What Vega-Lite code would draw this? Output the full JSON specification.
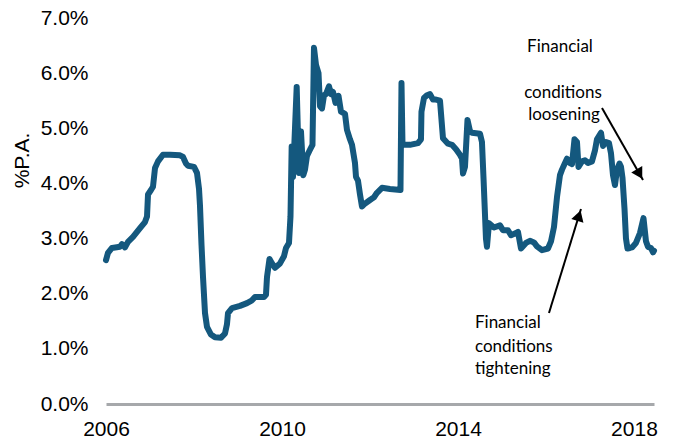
{
  "$schema": "https://vega.github.io/schema/vega-lite/v6.json",
  "width": 548,
  "height": 386,
  "autosize": "none",
  "padding": {"left": 106, "top": 18, "right": 20, "bottom": 36},
  "background": "white",
  "title": {"text": "(smoothing approach)", "fontSize": 18, "fontWeight": "bold", "font": "Liberation Sans", "anchor": "middle", "dx": -18, "offset": 19, "baseline": "alphabetic", "color": "#000000"},
  "config": {"view": {"stroke": null}},
  "datasets": {
    "series": [
      {"year": 2006.000, "rate": 2.61}, {"year": 2006.045, "rate": 2.74}, {"year": 2006.136, "rate": 2.83}, {"year": 2006.318, "rate": 2.85},
      {"year": 2006.364, "rate": 2.90}, {"year": 2006.432, "rate": 2.84}, {"year": 2006.500, "rate": 2.94}, {"year": 2006.614, "rate": 3.03},
      {"year": 2006.773, "rate": 3.19}, {"year": 2006.886, "rate": 3.30}, {"year": 2006.932, "rate": 3.40}, {"year": 2006.955, "rate": 3.80},
      {"year": 2007.023, "rate": 3.88}, {"year": 2007.068, "rate": 3.94}, {"year": 2007.114, "rate": 4.28}, {"year": 2007.182, "rate": 4.40},
      {"year": 2007.295, "rate": 4.52}, {"year": 2007.455, "rate": 4.52}, {"year": 2007.682, "rate": 4.51}, {"year": 2007.750, "rate": 4.48},
      {"year": 2007.818, "rate": 4.36}, {"year": 2007.864, "rate": 4.32}, {"year": 2008.000, "rate": 4.30}, {"year": 2008.068, "rate": 4.19},
      {"year": 2008.114, "rate": 3.90}, {"year": 2008.136, "rate": 3.60}, {"year": 2008.170, "rate": 2.90}, {"year": 2008.205, "rate": 2.30},
      {"year": 2008.250, "rate": 1.65}, {"year": 2008.295, "rate": 1.40}, {"year": 2008.386, "rate": 1.26}, {"year": 2008.477, "rate": 1.21},
      {"year": 2008.614, "rate": 1.20}, {"year": 2008.705, "rate": 1.28}, {"year": 2008.750, "rate": 1.45}, {"year": 2008.773, "rate": 1.65},
      {"year": 2008.864, "rate": 1.74}, {"year": 2009.045, "rate": 1.78}, {"year": 2009.205, "rate": 1.83}, {"year": 2009.318, "rate": 1.88},
      {"year": 2009.386, "rate": 1.94}, {"year": 2009.591, "rate": 1.94}, {"year": 2009.636, "rate": 1.98}, {"year": 2009.659, "rate": 2.30},
      {"year": 2009.716, "rate": 2.63}, {"year": 2009.773, "rate": 2.55}, {"year": 2009.841, "rate": 2.47}, {"year": 2009.955, "rate": 2.55},
      {"year": 2010.045, "rate": 2.68}, {"year": 2010.091, "rate": 2.83}, {"year": 2010.159, "rate": 2.92}, {"year": 2010.193, "rate": 3.40},
      {"year": 2010.220, "rate": 4.67}, {"year": 2010.250, "rate": 4.12}, {"year": 2010.334, "rate": 5.75}, {"year": 2010.386, "rate": 4.19},
      {"year": 2010.432, "rate": 4.94}, {"year": 2010.484, "rate": 4.15}, {"year": 2010.523, "rate": 4.25}, {"year": 2010.568, "rate": 4.50},
      {"year": 2010.636, "rate": 4.61}, {"year": 2010.693, "rate": 4.70}, {"year": 2010.727, "rate": 6.46}, {"year": 2010.773, "rate": 6.15},
      {"year": 2010.830, "rate": 6.00}, {"year": 2010.864, "rate": 5.40}, {"year": 2010.909, "rate": 5.36}, {"year": 2010.955, "rate": 5.60},
      {"year": 2011.000, "rate": 5.62}, {"year": 2011.068, "rate": 5.76}, {"year": 2011.114, "rate": 5.62}, {"year": 2011.159, "rate": 5.66},
      {"year": 2011.216, "rate": 5.46}, {"year": 2011.284, "rate": 5.59}, {"year": 2011.341, "rate": 5.30}, {"year": 2011.432, "rate": 5.26},
      {"year": 2011.477, "rate": 4.97}, {"year": 2011.545, "rate": 4.80}, {"year": 2011.591, "rate": 4.70}, {"year": 2011.659, "rate": 4.37},
      {"year": 2011.682, "rate": 4.12}, {"year": 2011.727, "rate": 4.05}, {"year": 2011.773, "rate": 3.80}, {"year": 2011.818, "rate": 3.58},
      {"year": 2011.864, "rate": 3.62}, {"year": 2012.000, "rate": 3.70}, {"year": 2012.091, "rate": 3.75}, {"year": 2012.159, "rate": 3.83},
      {"year": 2012.273, "rate": 3.92}, {"year": 2012.455, "rate": 3.90}, {"year": 2012.693, "rate": 3.88}, {"year": 2012.716, "rate": 5.82},
      {"year": 2012.739, "rate": 4.70}, {"year": 2012.909, "rate": 4.70}, {"year": 2013.091, "rate": 4.73}, {"year": 2013.159, "rate": 4.80},
      {"year": 2013.170, "rate": 5.30}, {"year": 2013.227, "rate": 5.55}, {"year": 2013.295, "rate": 5.60}, {"year": 2013.364, "rate": 5.62},
      {"year": 2013.432, "rate": 5.52}, {"year": 2013.500, "rate": 5.52}, {"year": 2013.591, "rate": 5.50}, {"year": 2013.659, "rate": 4.82},
      {"year": 2013.773, "rate": 4.72}, {"year": 2013.864, "rate": 4.70}, {"year": 2013.955, "rate": 4.62}, {"year": 2014.045, "rate": 4.52},
      {"year": 2014.091, "rate": 4.45}, {"year": 2014.114, "rate": 4.18}, {"year": 2014.159, "rate": 4.30}, {"year": 2014.216, "rate": 5.15},
      {"year": 2014.273, "rate": 4.95}, {"year": 2014.318, "rate": 4.92}, {"year": 2014.500, "rate": 4.90}, {"year": 2014.545, "rate": 4.75},
      {"year": 2014.580, "rate": 4.10}, {"year": 2014.636, "rate": 3.00}, {"year": 2014.659, "rate": 2.85}, {"year": 2014.705, "rate": 3.28},
      {"year": 2014.818, "rate": 3.20}, {"year": 2014.955, "rate": 3.24}, {"year": 2015.023, "rate": 3.15}, {"year": 2015.136, "rate": 3.15},
      {"year": 2015.205, "rate": 3.06}, {"year": 2015.318, "rate": 3.10}, {"year": 2015.364, "rate": 3.12}, {"year": 2015.432, "rate": 2.82},
      {"year": 2015.545, "rate": 2.92}, {"year": 2015.636, "rate": 2.96}, {"year": 2015.727, "rate": 2.93}, {"year": 2015.795, "rate": 2.86},
      {"year": 2015.909, "rate": 2.79}, {"year": 2016.045, "rate": 2.82}, {"year": 2016.114, "rate": 2.95}, {"year": 2016.182, "rate": 3.21},
      {"year": 2016.250, "rate": 3.75}, {"year": 2016.318, "rate": 4.15}, {"year": 2016.364, "rate": 4.25}, {"year": 2016.409, "rate": 4.33},
      {"year": 2016.477, "rate": 4.45}, {"year": 2016.545, "rate": 4.37}, {"year": 2016.591, "rate": 4.35}, {"year": 2016.648, "rate": 4.80},
      {"year": 2016.705, "rate": 4.75}, {"year": 2016.739, "rate": 4.30}, {"year": 2016.818, "rate": 4.40}, {"year": 2016.886, "rate": 4.42},
      {"year": 2016.955, "rate": 4.37}, {"year": 2017.045, "rate": 4.40}, {"year": 2017.114, "rate": 4.60}, {"year": 2017.159, "rate": 4.80},
      {"year": 2017.250, "rate": 4.92}, {"year": 2017.295, "rate": 4.68}, {"year": 2017.364, "rate": 4.75}, {"year": 2017.432, "rate": 4.73},
      {"year": 2017.477, "rate": 4.55}, {"year": 2017.523, "rate": 4.15}, {"year": 2017.568, "rate": 3.97}, {"year": 2017.614, "rate": 4.25},
      {"year": 2017.670, "rate": 4.36}, {"year": 2017.705, "rate": 4.30}, {"year": 2017.739, "rate": 4.10}, {"year": 2017.784, "rate": 3.55},
      {"year": 2017.818, "rate": 3.00}, {"year": 2017.852, "rate": 2.82}, {"year": 2017.909, "rate": 2.83}, {"year": 2017.955, "rate": 2.84},
      {"year": 2018.045, "rate": 2.92}, {"year": 2018.136, "rate": 3.10}, {"year": 2018.216, "rate": 3.37}, {"year": 2018.273, "rate": 2.95},
      {"year": 2018.318, "rate": 2.85}, {"year": 2018.386, "rate": 2.83}, {"year": 2018.432, "rate": 2.75}, {"year": 2018.455, "rate": 2.78}
    ],
    "arrows": [
      {"name": "loosening", "year": 2017.273, "rate": 5.368, "year2": 2018.205, "rate2": 4.062},
      {"name": "tightening", "year": 2016.068, "rate": 1.650, "year2": 2016.795, "rate2": 3.536}
    ],
    "heads": [
      {"name": "loosening", "year": 2018.125, "rate": 4.171},
      {"name": "tightening", "year": 2016.750, "rate": 3.415}
    ],
    "labels": [
      {"text": "Financial", "year": 2016.318, "rate": 6.474, "side": "loose"},
      {"text": "conditions", "year": 2016.386, "rate": 5.640, "side": "loose"},
      {"text": "loosening", "year": 2016.409, "rate": 5.241, "side": "loose"},
      {"text": "Financial", "year": 2014.386, "rate": 1.469, "side": "tight"},
      {"text": "conditions", "year": 2014.386, "rate": 1.034, "side": "tight"},
      {"text": "tightening", "year": 2014.386, "rate": 0.635, "side": "tight"}
    ]
  },
  "encoding": {
    "x": {"field": "year", "type": "quantitative",
      "scale": {"domain": [2006, 2018.455], "nice": false, "zero": false},
      "axis": {"values": [2006, 2010, 2014, 2018], "format": "d", "title": null, "grid": false, "ticks": false,
        "domainColor": "#a6a8ab", "domainWidth": 3, "labelFontSize": 21, "labelFont": "Liberation Sans", "labelColor": "#000000",
        "labelPadding": 14, "labelFlush": false, "labelOverlap": false, "labelBound": false}},
    "y": {"field": "rate", "type": "quantitative",
      "scale": {"domain": [0, 7], "nice": false},
      "axis": {"values": [0, 1, 2, 3, 4, 5, 6, 7], "labelExpr": "format(datum.value, '.1f') + '%'", "domain": false, "ticks": false, "grid": false,
        "labelFontSize": 21, "labelFont": "Liberation Sans", "labelColor": "#000000", "labelPadding": 18,
        "title": "%P.A.", "titleFont": "Liberation Sans", "titleFontSize": 21, "titleFontWeight": "normal", "titleColor": "#000000",
        "titleAngle": 270, "titleX": -84, "titleY": 142, "titleAlign": "center", "titleBaseline": "middle"}}
  },
  "layer": [
    {"data": {"name": "series"},
     "mark": {"type": "line", "color": "#14587e", "strokeWidth": 6, "strokeCap": "round", "strokeJoin": "round"}},
    {"data": {"name": "arrows"},
     "mark": {"type": "rule", "color": "#000000", "strokeWidth": 2},
     "encoding": {"x2": {"field": "year2"}, "y2": {"field": "rate2"}}},
    {"data": {"name": "heads"},
     "transform": [{"filter": "datum.name === 'loosening'"}],
     "mark": {"type": "point", "shape": "triangle-down", "angle": 330, "filled": true, "color": "#000000", "size": 160, "opacity": 1}},
    {"data": {"name": "heads"},
     "transform": [{"filter": "datum.name === 'tightening'"}],
     "mark": {"type": "point", "shape": "triangle-up", "angle": 17, "filled": true, "color": "#000000", "size": 160, "opacity": 1}},
    {"data": {"name": "labels"},
     "transform": [{"filter": "datum.side === 'loose'"}],
     "mark": {"type": "text", "font": "Lato", "fontSize": 17, "color": "#000000", "align": "center", "baseline": "middle"},
     "encoding": {"text": {"field": "text"}}},
    {"data": {"name": "labels"},
     "transform": [{"filter": "datum.side === 'tight'"}],
     "mark": {"type": "text", "font": "Lato", "fontSize": 17, "color": "#000000", "align": "left", "baseline": "middle"},
     "encoding": {"text": {"field": "text"}}}
  ]
}
